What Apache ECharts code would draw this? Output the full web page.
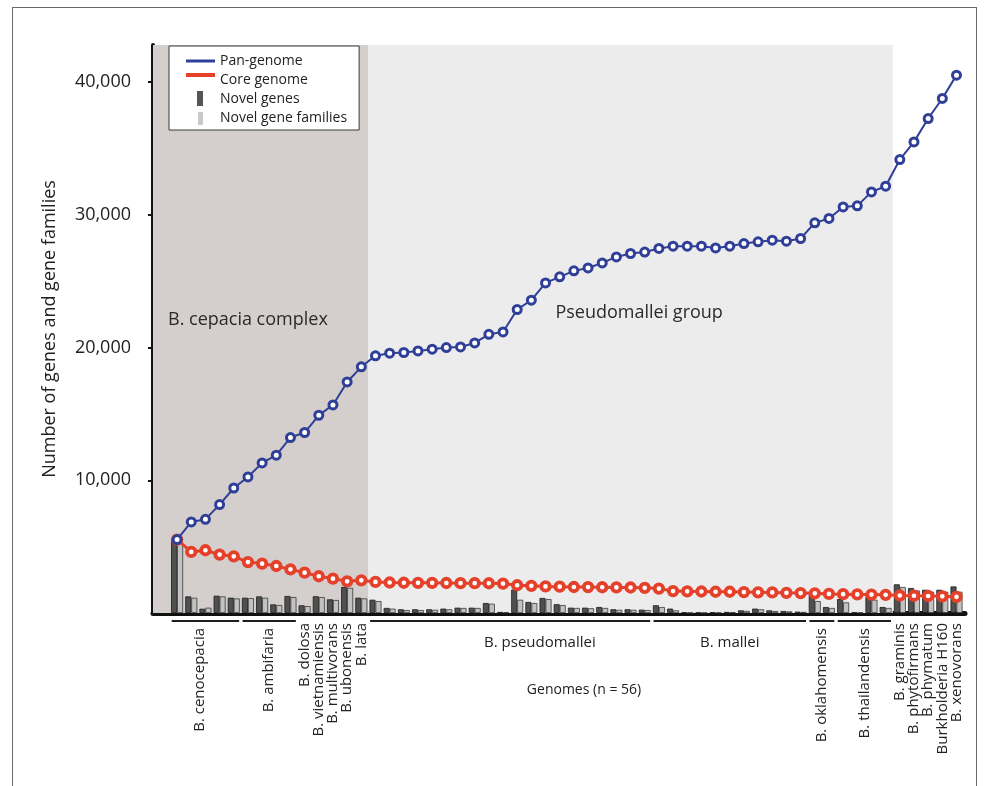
<!DOCTYPE html>
<html>
<head>
<meta charset="utf-8">
<script src="https://cdn.jsdelivr.net/npm/echarts@6/dist/echarts.min.js"></script>
<style>
  html, body { margin: 0; padding: 0; background: #fff; }
  #frame { position: absolute; left: 12px; top: 7px; width: 965px; height: 820px; border: 1px solid #6a6a6a; box-sizing: border-box; }
  #chart { position: absolute; left: 0; top: 0; width: 986px; height: 786px; }
</style>
</head>
<body>
<div id="frame"></div>
<div id="chart"></div>
<script>
// Genome order along the x axis (n = 56)
const genomeIndex = [1, 2, 3, 4, 5, 6, 7, 8, 9, 10, 11, 12, 13, 14, 15, 16, 17, 18, 19, 20,
  21, 22, 23, 24, 25, 26, 27, 28, 29, 30, 31, 32, 33, 34, 35, 36, 37, 38, 39, 40,
  41, 42, 43, 44, 45, 46, 47, 48, 49, 50, 51, 52, 53, 54, 55, 56];

// Cumulative pan-genome size
const panGenome = [5530, 6860, 7060, 8170, 9420, 10250, 11310, 11890, 13220, 13600,
  14900, 15680, 17410, 18550, 19380, 19580, 19630, 19750, 19880, 20000,
  20050, 20350, 21000, 21180, 22870, 23570, 24870, 25330, 25780, 26000,
  26380, 26830, 27090, 27200, 27470, 27640, 27640, 27640, 27510, 27640,
  27840, 27970, 28090, 28020, 28220, 29400, 29730, 30600, 30680, 31730,
  32160, 34170, 35500, 37260, 38770, 40530];

// Core genome size
const coreGenome = [5530, 4600, 4730, 4400, 4270, 3840, 3720, 3540, 3290, 3040,
  2770, 2590, 2390, 2460, 2340, 2300, 2280, 2270, 2270, 2260,
  2250, 2250, 2240, 2220, 2090, 2050, 2000, 1980, 1960, 1950,
  1940, 1930, 1920, 1900, 1840, 1650, 1630, 1620, 1600, 1600,
  1580, 1560, 1550, 1520, 1500, 1480, 1440, 1420, 1400, 1390,
  1370, 1320, 1300, 1280, 1260, 1220];

// Novel genes contributed by each added genome
const novelGenes = [5530, 1250, 320, 1300, 1150, 1150, 1250, 650, 1280, 580,
  1260, 1030, 1960, 1150, 1000, 380, 280, 280, 280, 330,
  400, 400, 750, 80, 1760, 830, 1130, 660, 400, 400,
  450, 280, 280, 250, 580, 330, 50, 40, 60, 80,
  200, 330, 200, 150, 100, 1450, 450, 1050, 60, 1250,
  450, 2160, 1880, 1750, 1750, 2000];

// Novel gene families contributed by each added genome
const novelFamilies = [5350, 1150, 400, 1250, 1100, 1120, 1150, 600, 1200, 520,
  1200, 980, 1900, 1100, 900, 330, 220, 220, 240, 280,
  380, 380, 700, 60, 1000, 750, 1050, 600, 380, 360,
  380, 240, 240, 220, 450, 200, 30, 30, 40, 60,
  160, 280, 150, 120, 80, 900, 380, 800, 40, 1000,
  380, 1960, 1700, 1600, 1600, 1600];

// Species groups under the axis (first and last genome of each)
const groupNames = ['B. cenocepacia', 'B. ambifaria', 'B. dolosa', 'B. vietnamiensis',
  'B. multivorans', 'B. ubonensis', 'B. lata', 'B. pseudomallei', 'B. mallei',
  'B. oklahomensis', 'B. thailandensis', 'B. graminis', 'B. phytofirmans',
  'B. phymatum', 'Burkholderia H160', 'B. xenovorans'];
const groupFirst = [1, 6, 10, 11, 12, 13, 14, 15, 35, 46, 48, 52, 53, 54, 55, 56];
const groupLast  = [5, 9, 10, 11, 12, 13, 14, 34, 45, 47, 51, 52, 53, 54, 55, 56];
const groupHorizontal = [false, false, false, false, false, false, false, true, true,
  false, false, false, false, false, false, false];

// Shaded clades
const cladeNames = ['B. cepacia complex', 'Pseudomallei group'];
const cladeFirst = [1, 15];
const cladeLast = [14, 51];

// Y axis ticks
const yTicks = [10000, 20000, 30000, 40000];

const FONT = '"Open Sans", "Noto Sans", sans-serif';
const INK = '#222';
const BLUE = '#2f3f97';
const RED = '#e4402a';

const X_MIN = -0.7, X_MAX = 56.6, Y_MAX = 42800;
const cladeColors = ['#d4cfcd', '#ececec'];
const cladeLabelPos = [[15, 266], [187, 259]];
const labelNudge = { 'B. pseudomallei': 2.1, 'B. cenocepacia': -0.4 };

const chart = echarts.init(document.getElementById('chart'), null, { renderer: 'canvas' });

const cladeAreas = cladeNames.map((name, i) => [
  {
    name: name,
    xAxis: i === 0 ? X_MIN : cladeFirst[i] - 0.5,
    itemStyle: { color: cladeColors[i] },
    label: {
      show: true, position: cladeLabelPos[i], align: 'left', verticalAlign: 'top',
      fontFamily: FONT, fontSize: 18, color: '#2a2a2a'
    }
  },
  { xAxis: cladeLast[i] + 0.5 }
]);

const pair = arr => genomeIndex.map((g, i) => [g, arr[i]]);

const option = {
  animation: false,
  textStyle: { fontFamily: FONT },
  grid: { left: 153, right: 21, top: 45, bottom: 173 },
  legend: {
    orient: 'vertical',
    left: 169, top: 46,
    backgroundColor: '#fff',
    borderColor: '#3a3a3a', borderWidth: 1, borderRadius: 0,
    padding: [7, 12, 4, 17],
    itemWidth: 29, itemHeight: 16, itemGap: 3,
    textStyle: { fontFamily: FONT, fontSize: 14, color: INK },
    selectedMode: false,
    data: [
      { name: 'Pan-genome', icon: 'path://M0,0M29,16M0,6.5h29v3h-29z', itemStyle: { color: BLUE, borderWidth: 0 } },
      { name: 'Core genome', icon: 'path://M0,0M29,16M0,1h29v4h-29z', itemStyle: { color: RED, borderWidth: 0 } },
      { name: 'Novel genes', icon: 'path://M0,0M29,16M11,0h6v15h-6z', itemStyle: { color: '#555', borderWidth: 0 } },
      { name: 'Novel gene families', icon: 'path://M0,0M29,16M12,2h5v13h-5z', itemStyle: { color: '#c9c9c9', borderWidth: 0 } }
    ]
  },
  xAxis: {
    type: 'value', min: X_MIN, max: X_MAX,
    axisLine: { show: true, onZero: false, lineStyle: { color: '#111', width: 5 } },
    axisTick: { show: false }, axisLabel: { show: false }, splitLine: { show: false },
    name: 'Genomes (n = 56)', nameLocation: 'middle', nameGap: 70,
    nameTextStyle: { fontFamily: FONT, fontSize: 14, color: INK, padding: [0, 0, 0, 50] }
  },
  yAxis: {
    type: 'value', min: 0, max: Y_MAX, interval: 10000,
    axisLine: { show: true, onZero: false, lineStyle: { color: '#111', width: 4 } },
    axisTick: { show: true, length: 5, customValues: yTicks, lineStyle: { color: '#111', width: 2 } },
    axisLabel: {
      customValues: yTicks, margin: 22,
      fontFamily: FONT, fontSize: 18, color: INK,
      formatter: v => v.toLocaleString('en-US')
    },
    splitLine: { show: false },
    name: 'Number of genes and gene families', nameLocation: 'middle', nameGap: 94,
    nameTextStyle: { fontFamily: FONT, fontSize: 18, color: INK }
  },
  series: [
    {
      name: 'Novel genes', type: 'bar', data: pair(novelGenes),
      barWidth: 6, barGap: '0%',
      itemStyle: { color: '#505050', borderColor: '#1c1c1c', borderWidth: 0.8 },
      markArea: { silent: true, data: cladeAreas }
    },
    {
      name: 'Novel gene families', type: 'bar', data: pair(novelFamilies),
      barWidth: 6, barGap: '0%',
      itemStyle: { color: '#c2c2c2', borderColor: '#3a3a3a', borderWidth: 0.8 }
    },
    {
      name: 'Core genome', type: 'line', data: pair(coreGenome),
      symbol: 'circle', symbolSize: 8.5,
      lineStyle: { color: RED, width: 3 },
      itemStyle: { color: '#fff', borderColor: RED, borderWidth: 3.8 },
      z: 3
    },
    {
      name: 'Pan-genome', type: 'line', data: pair(panGenome),
      symbol: 'circle', symbolSize: 8,
      lineStyle: { color: BLUE, width: 2 },
      itemStyle: { color: '#fff', borderColor: BLUE, borderWidth: 3 },
      z: 4
    },
    {
      // species brackets and names under the axis
      type: 'custom', silent: true, clip: false, z: 6,
      data: groupNames.map((n, i) => [groupFirst[i], groupLast[i], i]),
      encode: { x: [0, 1], y: 2 },
      renderItem(params, api) {
        const first = api.value(0), last = api.value(1), i = api.value(2);
        const name = groupNames[i];
        const y0 = api.coord([first, 0])[1];
        const children = [];
        if (last > first) {
          const a = api.coord([first - 0.38, 0])[0];
          const b = api.coord([last + 0.38, 0])[0];
          children.push({
            type: 'line',
            shape: { x1: a, y1: y0 + 8, x2: b, y2: y0 + 8 },
            style: { stroke: '#1e1e1e', lineWidth: 2 }
          });
        }
        const mid = (first + last) / 2 + (labelNudge[name] || 0);
        const cx = api.coord([mid, 0])[0];
        if (groupHorizontal[i]) {
          children.push({
            type: 'text', x: cx, y: y0 + 30,
            style: { text: name, align: 'center', verticalAlign: 'middle', font: '15px ' + FONT, fill: INK }
          });
        } else {
          children.push({
            type: 'text', x: cx, y: y0 + (last > first ? 15 : 10), rotation: Math.PI / 2,
            style: { text: name, align: 'right', verticalAlign: 'middle', font: '15px ' + FONT, fill: INK }
          });
        }
        return { type: 'group', children: children };
      }
    }
  ]
};

chart.setOption(option);
</script>
</body>
</html>
